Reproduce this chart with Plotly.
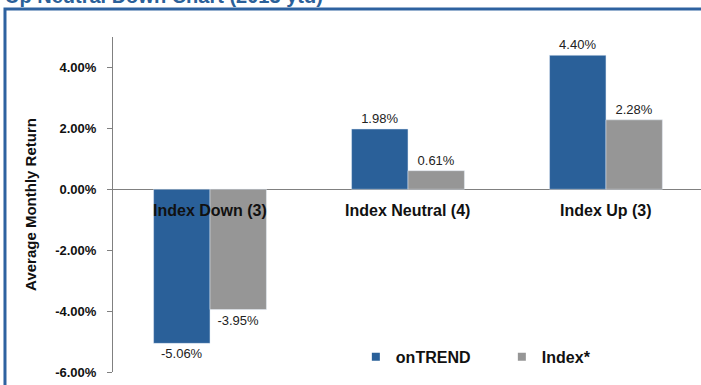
import plotly.graph_objects as go

categories = ["Index Down (3)", "Index Neutral (4)", "Index Up (3)"]
ontrend = [-5.06, 1.98, 4.40]
index_star = [-3.95, 0.61, 2.28]
y_ticks = [-6, -4, -2, 0, 2, 4]
y_tick_text = ["<b>%.2f%%</b>" % v for v in y_ticks]

BLUE = "#2A6099"
GRAY = "#969696"
AXIS = "#808080"
FONT = "Arial, Liberation Sans, sans-serif"

fig = go.Figure()
for name, vals, col in [("onTREND", ontrend, BLUE), ("Index*", index_star, GRAY)]:
    fig.add_trace(go.Bar(
        name=name, x=categories, y=vals, marker_color=col, showlegend=False,
        texttemplate="%{y:.2f}%", textposition="outside",
        textfont=dict(family=FONT, size=13, color="#222222"), cliponaxis=False,
    ))
    # small square swatch for the legend
    fig.add_trace(go.Scatter(
        name="<b>%s</b>" % name, x=[None], y=[None], mode="markers",
        marker=dict(symbol="square", size=8, color=col),
    ))

# category names sit just under the zero line
for c in categories:
    fig.add_annotation(x=c, y=0, text="<b>%s</b>" % c, showarrow=False,
                       yshift=-21, font=dict(family=FONT, size=16, color="#111111"))

# heading (partly cropped at the top edge)
fig.add_annotation(xref="paper", yref="paper", x=-0.187, y=1, xanchor="left",
                   yanchor="middle", yshift=41, showarrow=False,
                   text="<b>Up Neutral Down Chart (2013 ytd)</b>",
                   font=dict(family=FONT, size=20, color=BLUE))

# blue frame around the chart panel
fig.add_shape(type="path", xref="paper", yref="paper",
              path="M -0.1837,-0.05 L -0.1837,1.0836 L 1.01,1.0836",
              line=dict(color="#2E62A0", width=3))

fig.update_layout(
    width=701, height=385,
    margin=dict(l=113, r=0, t=37, b=13, autoexpand=False),
    paper_bgcolor="white", plot_bgcolor="white",
    barmode="group", bargap=0.43, bargroupgap=0,
    font=dict(family=FONT, color="#111111"),
    showlegend=True,
    legend=dict(orientation="h", x=0.413, y=0.045, xanchor="left", yanchor="middle",
                font=dict(family=FONT, size=16, color="#111111"),
                entrywidth=101, itemwidth=30, bgcolor="rgba(0,0,0,0)"),
)
fig.update_xaxes(range=[-0.49, 2.48], showticklabels=False, showline=False,
                 ticks="", showgrid=False)
fig.update_yaxes(range=[-6, 5], tickvals=y_ticks, ticktext=y_tick_text,
                 tickfont=dict(family=FONT, size=13, color="#111111"),
                 showgrid=False, showline=True, linecolor=AXIS, linewidth=1,
                 ticks="outside", ticklen=5, tickcolor=AXIS, ticklabelstandoff=8,
                 zeroline=True, zerolinecolor=AXIS, zerolinewidth=1,
                 title=dict(text="<b>Average Monthly Return</b>", standoff=14,
                            font=dict(family=FONT, size=15, color="#111111")))

fig.write_html("out.html")
